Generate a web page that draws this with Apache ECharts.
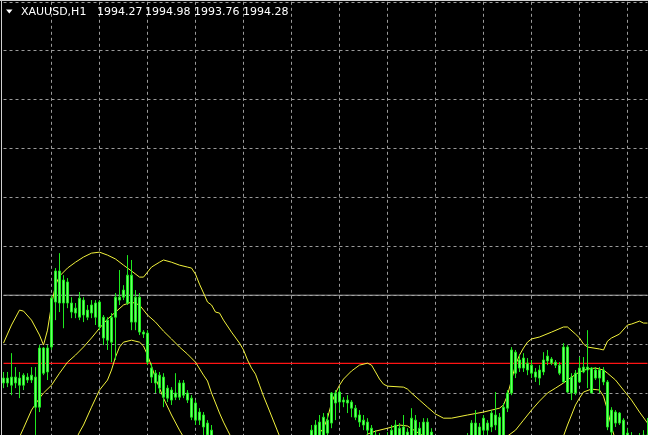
<!DOCTYPE html>
<html>
<head>
<meta charset="utf-8">
<script src="https://cdn.jsdelivr.net/npm/echarts@6/dist/echarts.min.js"></script>
<style>
html,body{margin:0;padding:0;background:#000;overflow:hidden;width:648px;height:435px;}
#c{width:648px;height:446px;}
</style>
</head>
<body>
<div id="c"></div>
<script>
// Header
const symbolLabel = 'XAUUSD,H1';
const lastBar = ['1994.27', '1994.98', '1993.76', '1994.28'];

// Horizontal reference levels
const redLevel = 1997.21;
const greyLevel = 2000.00;

// Price grid
const priceMin = 1994, priceMax = 2012, priceStep = 2;

// H1 candles: [open, close, low, high]
const ohlc = [
[1996.41,1996.61,1996.20,1996.86],[1996.61,1996.41,1996.24,1996.86],[1996.32,1996.65,1995.91,1997.63],[1996.65,1996.41,1996.20,1997.06],
[1996.61,1996.32,1995.79,1996.86],[1996.32,1996.73,1996.12,1996.81],[1996.65,1996.53,1996.41,1996.81],[1996.53,1996.73,1996.41,1997.06],
[1996.65,1995.42,1994.07,1997.06],[1995.42,1997.84,1995.22,1997.96],[1997.84,1996.81,1996.73,1997.88],[1996.86,1997.84,1996.53,1997.96],
[1997.88,1999.88,1997.76,2000.00],[1999.72,2000.99,1998.98,2001.11],[2000.99,1999.68,1999.31,2001.72],[1999.68,2000.62,1998.65,2000.82],
[2000.54,1999.68,1999.47,2000.70],[1999.68,1999.31,1999.06,1999.92],[1999.47,1999.27,1999.06,1999.68],[1999.10,1999.88,1998.98,2000.13],
[1999.80,1999.19,1998.90,1999.92],[1999.39,1999.10,1998.98,1999.60],[1999.27,1999.60,1999.06,1999.80],[1999.68,1999.10,1998.78,1999.80],
[1999.72,1998.70,1998.57,1999.80],[1999.10,1998.25,1997.96,1999.19],[1998.98,1998.16,1997.76,1999.10],[1998.08,1999.10,1997.26,1999.27],
[1999.10,1999.92,1997.35,2000.09],[1999.92,1999.80,1999.60,2001.03],[1999.92,2000.21,1999.80,2000.41],[1999.68,2000.82,1999.60,2001.64],
[2000.82,1998.90,1998.57,2001.44],[1998.90,1999.92,1998.57,2000.21],[1999.92,1998.49,1998.37,2000.09],[1998.49,1998.41,1998.25,1998.57],
[1998.45,1997.26,1997.14,1998.57],[1997.02,1996.65,1996.41,1997.22],[1996.81,1996.41,1996.00,1996.94],[1996.73,1996.20,1996.00,1996.86],
[1996.65,1995.83,1995.42,1996.81],[1996.20,1995.79,1995.63,1996.32],[1996.12,1995.71,1995.51,1996.24],[1995.83,1996.00,1995.71,1996.81],
[1995.83,1996.41,1995.71,1996.53],[1996.41,1995.91,1995.79,1996.53],[1996.00,1995.71,1995.59,1996.12],[1995.79,1995.01,1994.89,1995.91],
[1995.59,1994.89,1994.69,1995.71],[1994.89,1995.22,1994.69,1995.38],[1995.10,1994.61,1994.28,1995.22],[1994.77,1994.28,1994.07,1994.89],
[1994.48,1993.87,1993.67,1994.69],[1994.07,1993.46,1993.26,1994.28],[1993.67,1993.17,1992.93,1993.87],[1993.46,1992.85,1992.64,1993.67],
[1993.05,1992.64,1992.44,1993.26],[1992.85,1992.36,1992.11,1993.05],[1992.64,1992.23,1992.03,1992.85],[1992.52,1992.03,1991.82,1992.76],
[1992.36,1991.95,1991.70,1992.52],[1992.23,1991.82,1991.62,1992.44],[1991.95,1992.44,1991.74,1992.64],[1992.36,1992.03,1991.82,1992.52],
[1992.11,1992.52,1991.95,1992.76],[1992.23,1992.64,1992.03,1992.85],[1992.36,1992.85,1992.15,1993.05],[1992.52,1992.93,1992.36,1993.17],
[1992.64,1993.05,1992.44,1993.26],[1992.76,1993.26,1992.60,1993.46],[1992.93,1993.34,1992.76,1993.58],[1993.05,1993.46,1992.85,1993.67],
[1993.17,1993.58,1993.01,1993.79],[1993.34,1993.75,1993.17,1993.95],[1993.46,1993.87,1993.26,1994.07],[1993.67,1994.07,1993.46,1994.20],
[1994.16,1993.75,1993.58,1994.24],[1993.87,1994.48,1993.67,1994.69],[1993.87,1994.69,1993.67,1994.89],[1994.07,1994.81,1993.87,1995.10],
[1994.07,1995.01,1993.87,1995.18],[1994.89,1994.36,1994.07,1995.18],[1994.77,1996.00,1994.56,1996.04],[1996.00,1995.59,1994.89,1996.12],
[1995.63,1996.04,1995.30,1996.20],[1995.71,1995.63,1995.42,1995.83],[1995.71,1995.59,1995.18,1995.91],[1995.63,1995.38,1995.01,1995.71],
[1995.38,1995.01,1994.89,1995.51],[1995.10,1994.81,1994.61,1995.30],[1994.89,1994.69,1994.48,1995.10],[1994.81,1994.48,1994.28,1994.97],
[1994.56,1994.28,1994.07,1994.69],[1994.28,1993.87,1993.67,1994.48],[1994.16,1993.75,1993.58,1994.36],[1994.07,1993.67,1993.46,1994.28],
[1993.79,1994.20,1993.58,1994.40],[1994.07,1994.48,1993.87,1994.69],[1994.07,1994.69,1993.87,1994.89],[1994.56,1994.07,1993.87,1994.77],
[1994.07,1994.61,1993.87,1995.10],[1994.40,1994.07,1993.87,1994.56],[1994.07,1994.97,1993.87,1995.38],[1994.89,1994.07,1993.87,1995.10],
[1994.07,1994.56,1993.87,1994.81],[1994.07,1994.81,1993.87,1994.97],[1994.81,1994.16,1993.87,1994.97],[1994.40,1994.07,1993.87,1994.56],
[1994.07,1993.67,1993.46,1994.28],[1993.87,1993.46,1993.26,1994.07],[1993.75,1993.34,1993.13,1993.95],[1993.67,1993.26,1993.05,1993.87],
[1993.34,1993.75,1993.17,1993.99],[1993.46,1993.87,1993.26,1994.07],[1993.58,1993.99,1993.38,1994.16],[1993.67,1994.07,1993.46,1994.24],
[1993.79,1994.20,1993.58,1994.36],[1994.07,1994.77,1993.87,1994.89],[1994.77,1994.07,1993.87,1995.30],[1994.07,1994.61,1993.87,1994.77],
[1994.48,1994.97,1994.28,1995.10],[1994.77,1994.48,1994.28,1994.89],[1994.61,1995.18,1994.40,1995.30],[1995.10,1994.69,1994.48,1996.04],
[1994.07,1995.01,1993.87,1995.18],[1994.07,1995.42,1993.87,1995.59],[1995.38,1996.00,1995.22,1996.12],[1996.00,1997.76,1995.91,1997.88],
[1997.67,1996.81,1996.61,1997.76],[1997.35,1997.02,1996.86,1997.55],[1997.02,1997.43,1996.86,1997.63],[1997.22,1996.94,1996.73,1997.43],
[1997.14,1996.81,1996.61,1997.35],[1996.86,1996.65,1996.45,1997.02],[1996.61,1996.94,1996.32,1997.14],[1996.86,1997.35,1996.73,1997.67],
[1997.31,1997.51,1997.14,1997.76],[1997.39,1997.22,1997.14,1997.47],[1997.26,1997.14,1997.02,1997.35],[1997.14,1996.81,1996.73,1997.26],
[1996.45,1997.88,1996.41,1998.04],[1997.88,1996.04,1996.00,1997.96],[1996.00,1996.65,1995.71,1996.81],[1996.81,1996.00,1995.91,1996.94],
[1996.45,1997.02,1996.41,1997.47],[1996.86,1997.06,1996.81,1997.47],[1997.06,1996.94,1996.20,1998.57],[1997.02,1996.00,1996.00,1997.06],
[1996.61,1996.94,1996.53,1997.06],[1996.94,1996.61,1996.00,1997.06],[1996.45,1996.94,1996.32,1997.06],[1996.45,1994.61,1994.48,1996.53],
[1995.30,1994.40,1994.28,1995.42],[1994.77,1995.22,1994.61,1995.30],[1995.18,1994.77,1994.69,1995.22],[1994.89,1994.07,1993.87,1994.97],
[1994.36,1993.87,1993.67,1994.56],[1994.20,1993.75,1993.58,1994.40],[1994.07,1993.67,1993.46,1994.28],[1993.75,1994.16,1993.58,1994.36],
[1993.83,1994.28,1993.67,1994.48],[1994.27,1994.28,1993.76,1994.98]
];

// Bollinger bands: [bar index, price]
const upperBand = [
[0,1998.04],[2,1998.78],[4,1999.39],[5,1999.35],[7,1998.98],[9,1998.37],[10,1997.96],[11,1998.57],[12,1999.60],[13,2000.41],
[14,2000.78],[16,2001.11],[18,2001.35],[20,2001.56],[22,2001.72],[24,2001.76],[26,2001.64],[28,2001.48],[30,2001.23],[32,2000.99],
[34,2000.74],[35,2000.74],[37,2001.15],[39,2001.35],[40,2001.44],[42,2001.35],[44,2001.23],[46,2001.15],[47,2001.11],[48,2000.86],
[49,2000.45],[50,2000.09],[51,1999.72],[52,1999.60],[53,1999.31],[54,1999.27],[55,1998.98],[57,1998.49],[59,1998.04],[60,1997.76],
[61,1997.35],[62,1997.02],[63,1996.77],[64,1996.32],[65,1995.87],[66,1995.47],[67,1995.06],[68,1994.65],[69,1994.24],[71,1993.75],
[73,1993.46],[75,1993.46],[77,1993.79],[79,1994.36],[80,1994.56],[81,1994.97],[82,1995.59],[83,1996.00],[84,1996.32],[85,1996.57],
[87,1996.90],[89,1997.14],[91,1997.22],[92,1997.14],[93,1996.86],[94,1996.57],[95,1996.36],[96,1996.28],[100,1996.24],[101,1996.16],
[102,1996.00],[104,1995.71],[106,1995.42],[108,1995.14],[110,1994.97],[112,1994.97],[116,1995.10],[120,1995.22],[124,1995.38],[125,1995.51],
[126,1995.91],[127,1996.53],[128,1997.14],[129,1997.55],[130,1997.84],[131,1998.08],[132,1998.21],[134,1998.29],[137,1998.49],[140,1998.70],
[141,1998.70],[143,1998.41],[144,1998.25],[145,1998.00],[146,1997.88],[149,1997.80],[150,1997.76],[151,1998.12],[152,1998.25],[154,1998.41],
[156,1998.78],[157,1998.82],[159,1998.94],[160,1998.86],[161,1998.86]
];
const middleBand = [
[0,1992.85],[2,1993.46],[4,1994.20],[5,1994.56],[7,1995.30],[9,1995.79],[10,1996.00],[12,1996.32],[14,1996.81],[16,1997.26],
[18,1997.55],[20,1997.88],[22,1998.25],[24,1998.65],[26,1999.02],[28,1999.31],[30,1999.60],[32,1999.72],[34,1999.60],[36,1999.19],
[38,1998.90],[40,1998.53],[42,1998.21],[44,1997.88],[46,1997.59],[48,1997.26],[50,1996.73],[51,1996.49],[52,1996.00],[53,1995.59],
[54,1995.18],[55,1994.81],[56,1994.48],[57,1994.16],[60,1993.46],[64,1992.76],[68,1992.36],[72,1992.23],[76,1992.44],[80,1992.85],
[84,1993.34],[88,1993.83],[90,1994.07],[91,1994.32],[93,1994.44],[96,1994.56],[99,1994.69],[101,1994.65],[103,1994.44],[105,1994.24],
[108,1993.87],[112,1993.58],[116,1993.46],[120,1993.54],[124,1993.87],[126,1994.24],[128,1994.48],[130,1994.89],[132,1995.30],[134,1995.67],
[136,1996.00],[138,1996.20],[140,1996.41],[142,1996.65],[144,1996.86],[146,1996.98],[148,1997.02],[150,1996.94],[151,1996.81],[153,1996.53],
[155,1996.12],[157,1995.71],[159,1995.22],[161,1994.77]
];
const lowerBand = [
[0,1987.53],[4,1989.17],[8,1990.80],[12,1992.03],[16,1993.05],[18,1994.07],[19,1994.40],[20,1994.69],[22,1995.42],[24,1996.12],
[26,1996.53],[27,1996.94],[28,1997.47],[29,1997.88],[30,1998.08],[32,1998.16],[34,1998.08],[35,1997.92],[36,1997.55],[37,1997.10],
[38,1996.61],[40,1995.79],[42,1995.10],[44,1994.48],[45,1994.20],[48,1993.26],[55,1991.62],[62,1990.39],[70,1989.78],[80,1989.98],
[90,1990.60],[100,1991.62],[110,1992.03],[120,1992.44],[126,1992.85],[132,1993.26],[137,1993.87],[140,1994.24],[141,1994.69],[142,1995.10],
[143,1995.51],[144,1995.79],[145,1996.04],[147,1996.16],[149,1996.12],[150,1995.87],[151,1995.30],[152,1994.61],[153,1994.07],[157,1993.26],
[161,1992.85]
];

const bars = ohlc.map((_, i) => String(i));
const lastIndex = ohlc.length - 1;

const chart = echarts.init(document.getElementById('c'), null, {renderer: 'canvas'});
const gridDash = {color: '#9a9a9a', width: 1, type: [3, 3]};
const bandStyle = {color: '#f2f23c', width: 1};

function levelSeries(level, color, width) {
  return {
    type: 'line', data: [[0, level], [lastIndex, level]],
    showSymbol: false, symbol: 'none', silent: true, z: 2,
    lineStyle: {color: color, width: width, type: 'solid'}
  };
}

chart.setOption({
  backgroundColor: '#000000',
  animation: false,
  grid: {left: 3.5, top: 1.8, width: 644, height: 440.1, containLabel: false},
  xAxis: {
    type: 'category', data: bars, boundaryGap: false,
    axisLine: {show: false}, axisTick: {show: false}, axisLabel: {show: false},
    splitLine: {show: true, interval: (idx) => idx > 0 && idx % 12 === 0, lineStyle: gridDash}
  },
  yAxis: {
    type: 'value', min: priceMin, max: priceMax, interval: priceStep,
    axisLine: {show: false}, axisTick: {show: false}, axisLabel: {show: false},
    splitLine: {show: true, lineStyle: gridDash}
  },
  series: [
    levelSeries(greyLevel, '#a8a8a8', 1),
    levelSeries(redLevel, '#ff1414', 1.4),
    {type: 'line', data: upperBand, showSymbol: false, symbol: 'none', lineStyle: bandStyle, z: 3, silent: true},
    {type: 'line', data: middleBand, showSymbol: false, symbol: 'none', lineStyle: bandStyle, z: 3, silent: true},
    {type: 'line', data: lowerBand, showSymbol: false, symbol: 'none', lineStyle: bandStyle, z: 3, silent: true},
    {
      type: 'candlestick', data: ohlc, barWidth: 2, z: 4, silent: true,
      itemStyle: {color: '#6dff6d', color0: '#6dff6d', borderColor: '#1ee81e', borderColor0: '#1ee81e', borderWidth: 1}
    }
  ],
  graphic: [
    {type: 'line', shape: {x1: 1.5, y1: 0, x2: 1.5, y2: 446}, style: {stroke: '#d0d0d0', lineWidth: 1}, z: 10},
    {type: 'line', shape: {x1: 0, y1: 0.5, x2: 648, y2: 0.5}, style: {stroke: '#d0d0d0', lineWidth: 1}, z: 10},
    {type: 'polygon', shape: {points: [[6, 9.5], [12.5, 9.5], [9.25, 13.5]]}, style: {fill: '#ffffff'}, z: 10},
    {type: 'text', left: 21, top: 7, style: {text: symbolLabel, fill: '#ffffff', font: '11px "DejaVu Sans"'}, z: 10},
    {type: 'text', left: 97, top: 7, style: {text: lastBar[0], fill: '#ffffff', font: '11px "DejaVu Sans"'}, z: 10},
    {type: 'text', left: 145, top: 7, style: {text: lastBar[1], fill: '#ffffff', font: '11px "DejaVu Sans"'}, z: 10},
    {type: 'text', left: 194, top: 7, style: {text: lastBar[2], fill: '#ffffff', font: '11px "DejaVu Sans"'}, z: 10},
    {type: 'text', left: 243, top: 7, style: {text: lastBar[3], fill: '#ffffff', font: '11px "DejaVu Sans"'}, z: 10}
  ]
});
</script>
</body>
</html>
